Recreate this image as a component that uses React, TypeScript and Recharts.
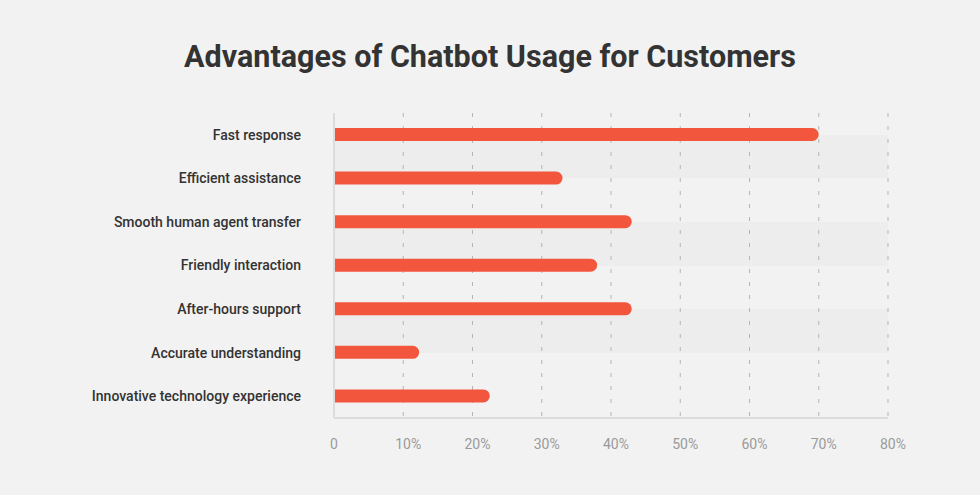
import React from 'react';
import { BarChart, Bar, XAxis, YAxis, CartesianGrid } from 'recharts';

const categories = [
  'Fast response',
  'Efficient assistance',
  'Smooth human agent transfer',
  'Friendly interaction',
  'After-hours support',
  'Accurate understanding',
  'Innovative technology experience',
];
const shares = [70, 33, 43, 38, 43, 12.3, 22.5];
const xTicks = [0, 10, 20, 30, 40, 50, 60, 70, 80];

const data = categories.map((name, i) => ({ name, value: shares[i] }));

const FONT = 'Roboto, "Noto Sans", sans-serif';

const XTick = (props: any) => {
  const { x, y, payload } = props;
  const v = payload.value as number;
  const label = v === 0 ? '0' : `${v}%`;
  return (
    <text
      x={x + (v === 0 ? 0 : 5)}
      y={y}
      dy="0.71em"
      textAnchor="middle"
      fill="#9a9a9a"
      fontSize={14}
      fontFamily={FONT}
    >
      {label}
    </text>
  );
};

export default function App() {
  return (
    <div
      style={{
        position: 'absolute',
        left: 0,
        top: 0,
        width: 980,
        height: 495,
        background: '#f2f2f2',
        fontFamily: FONT,
      }}
    >
      <div
        style={{
          position: 'absolute',
          top: 42,
          left: 0,
          width: 980,
          textAlign: 'center',
          fontSize: 30.5,
          lineHeight: '30.5px',
          fontWeight: 700,
          color: '#333333',
        }}
      >
        Advantages of Chatbot Usage for Customers
      </div>
      <div style={{ position: 'absolute', left: 0, top: 0 }}>
        <BarChart
          width={980}
          height={495}
          data={data}
          layout="vertical"
          margin={{ top: 113, right: 92, bottom: 47, left: 0 }}
        >
          <CartesianGrid
            horizontal={true}
            vertical={false}
            stroke="none"
            horizontalFill={[
              'transparent',
              '#ededed',
              'transparent',
              '#ededed',
              'transparent',
              '#ededed',
              'transparent',
              'transparent',
            ]}
            fillOpacity={1}
          />
          <CartesianGrid
            horizontal={false}
            vertical={true}
            stroke="#b5b5b5"
            strokeDasharray="4 9"
          />
          <XAxis
            type="number"
            domain={[0, 80]}
            ticks={xTicks}
            axisLine={{ stroke: '#dcdcdc', strokeWidth: 2 }}
            tickLine={false}
            tickSize={0}
            tickMargin={21}
            height={30}
            tick={<XTick />}
            interval={0}
          />
          <YAxis
            type="category"
            dataKey="name"
            width={334}
            axisLine={{ stroke: '#dcdcdc', strokeWidth: 2 }}
            tickLine={false}
            tickSize={0}
            tickMargin={33}
            tick={{ fill: '#333333', fontSize: 14, fontWeight: 500, fontFamily: FONT }}
            interval={0}
          />
          <Bar
            dataKey="value"
            fill="#f2573e"
            barSize={13}
            radius={[0, 6.5, 6.5, 0]}
            isAnimationActive={false}
          />
        </BarChart>
      </div>
    </div>
  );
}
